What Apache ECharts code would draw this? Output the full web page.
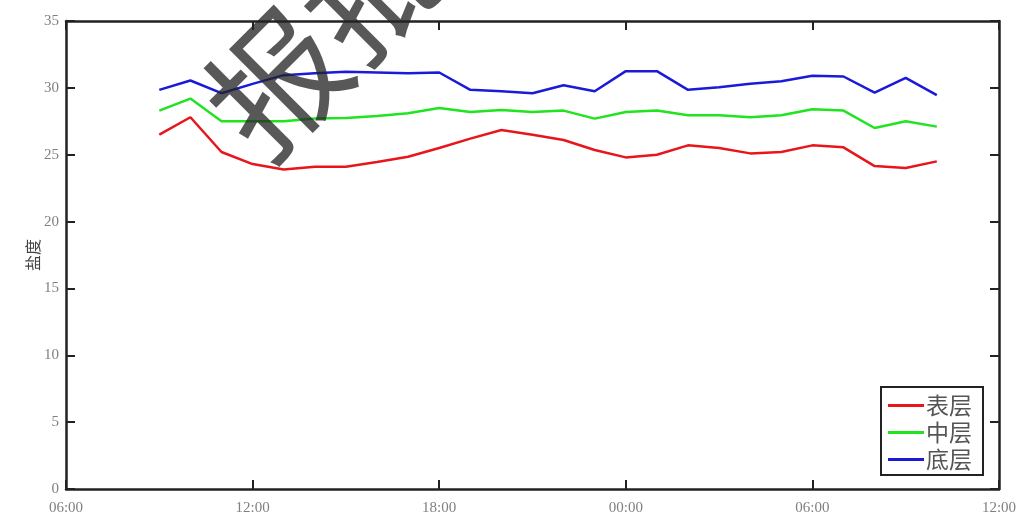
<!DOCTYPE html>
<html>
<head>
<meta charset="utf-8">
<script src="https://cdn.jsdelivr.net/npm/echarts@6/dist/echarts.min.js"></script>
<style>
html,body{margin:0;padding:0;background:#fff;}
#chart{width:1030px;height:520px;}
</style>
</head>
<body>
<div id="chart"></div>
<script>
// Times of observations (hourly, from 09:00 day 1 to 10:00 day 2)
const times = ['09:00','10:00','11:00','12:00','13:00','14:00','15:00','16:00','17:00','18:00','19:00','20:00','21:00','22:00','23:00','00:00','01:00','02:00','03:00','04:00','05:00','06:00','07:00','08:00','09:00','10:00'];
const xTickLabels = ['06:00','12:00','18:00','00:00','06:00','12:00'];
const seriesNames = ['表层','中层','底层'];
const surface = [26.5,27.8,25.2,24.3,23.9,24.1,24.1,24.45,24.85,25.5,26.2,26.85,26.5,26.1,25.35,24.8,25.0,25.7,25.5,25.1,25.2,25.7,25.55,24.15,24.0,24.5];
const middle  = [28.3,29.2,27.5,27.5,27.5,27.7,27.75,27.9,28.1,28.5,28.2,28.35,28.2,28.3,27.7,28.2,28.3,27.95,27.95,27.8,27.95,28.4,28.3,27.0,27.5,27.1];
const bottom  = [29.85,30.55,29.6,30.3,30.95,31.1,31.2,31.15,31.1,31.15,29.85,29.75,29.6,30.2,29.75,31.25,31.25,29.85,30.05,30.3,30.5,30.9,30.85,29.65,30.75,29.45];
const yName = '盐度';
const watermark = '报批';

// convert clock times to hours since 06:00 of the first day
function toOffsets(ts){
  const out=[]; let day=0; let prev=-1;
  ts.forEach(t=>{const h=parseInt(t.split(':')[0],10)+parseInt(t.split(':')[1],10)/60;
    if(h<prev) day++; prev=h; out.push(day*24+h-6);});
  return out;
}
const xs = toOffsets(times);
const pair = arr => arr.map((v,i)=>[xs[i],v]);

const serif = '"Liberation Serif","DejaVu Serif",serif';
const cjk = '"Noto Sans CJK SC",sans-serif';
const axisCol = '#222';
const chart = echarts.init(document.getElementById('chart'));
const colors = ['#e8161b','#1fe41f','#1a1ad8'];
const tick = {show:true,inside:true,length:9,lineStyle:{color:axisCol,width:2}};

chart.setOption({
  animation:false,
  backgroundColor:'#fff',
  grid:{left:66,right:31,top:21,bottom:31,containLabel:false},
  xAxis:[{
    type:'value',min:0,max:30,interval:6,
    axisLine:{show:true,onZero:false,lineStyle:{color:axisCol,width:2.5}},
    axisTick:tick,
    axisLabel:{color:'#808080',fontFamily:serif,fontSize:15,margin:12,
      formatter:(v)=>xTickLabels[Math.round(v/6)]},
    splitLine:{show:false}
  },{
    type:'value',min:0,max:30,interval:6,position:'top',
    axisLine:{show:true,onZero:false,lineStyle:{color:axisCol,width:2.5}},
    axisTick:tick,
    axisLabel:{show:false},splitLine:{show:false}
  }],
  yAxis:[{
    type:'value',min:0,max:35,interval:5,
    name:yName,nameLocation:'middle',nameGap:25,nameRotate:90,nameMoveOverlap:false,
    nameTextStyle:{fontFamily:cjk,fontSize:16,color:'#444'},
    axisLine:{show:true,onZero:false,lineStyle:{color:axisCol,width:2.5}},
    axisTick:tick,
    axisLabel:{color:'#808080',fontFamily:serif,fontSize:15,margin:7},
    splitLine:{show:false}
  },{
    type:'value',min:0,max:35,interval:5,position:'right',
    axisLine:{show:true,onZero:false,lineStyle:{color:axisCol,width:2.5}},
    axisTick:tick,
    axisLabel:{show:false},splitLine:{show:false}
  }],
  legend:{
    orient:'vertical',left:881,top:387,
    padding:[7,11,4,7],
    backgroundColor:'#fff',borderColor:'#222',borderWidth:2,
    itemWidth:36,itemHeight:3,itemGap:4,
    icon:'rect',
    textStyle:{fontFamily:cjk,fontSize:23,color:'#555',padding:[0,0,0,-3]},
    data:seriesNames
  },
  series:[
    {name:seriesNames[0],type:'line',data:pair(surface),symbol:'none',lineStyle:{width:2.5,color:colors[0]},itemStyle:{color:colors[0]}},
    {name:seriesNames[1],type:'line',data:pair(middle),symbol:'none',lineStyle:{width:2.5,color:colors[1]},itemStyle:{color:colors[1]}},
    {name:seriesNames[2],type:'line',data:pair(bottom),symbol:'none',lineStyle:{width:2.5,color:colors[2]},itemStyle:{color:colors[2]}},
    {type:'line',xAxisIndex:1,yAxisIndex:1,data:[],silent:true}
  ],
  graphic:[{
    type:'text',x:324,y:35,rotation:Math.PI/4,z:100,
    style:{text:watermark,fontFamily:cjk,fontSize:134,fill:'rgba(35,35,35,0.76)',
      align:'center',verticalAlign:'middle'}
  }]
});
</script>
</body>
</html>
